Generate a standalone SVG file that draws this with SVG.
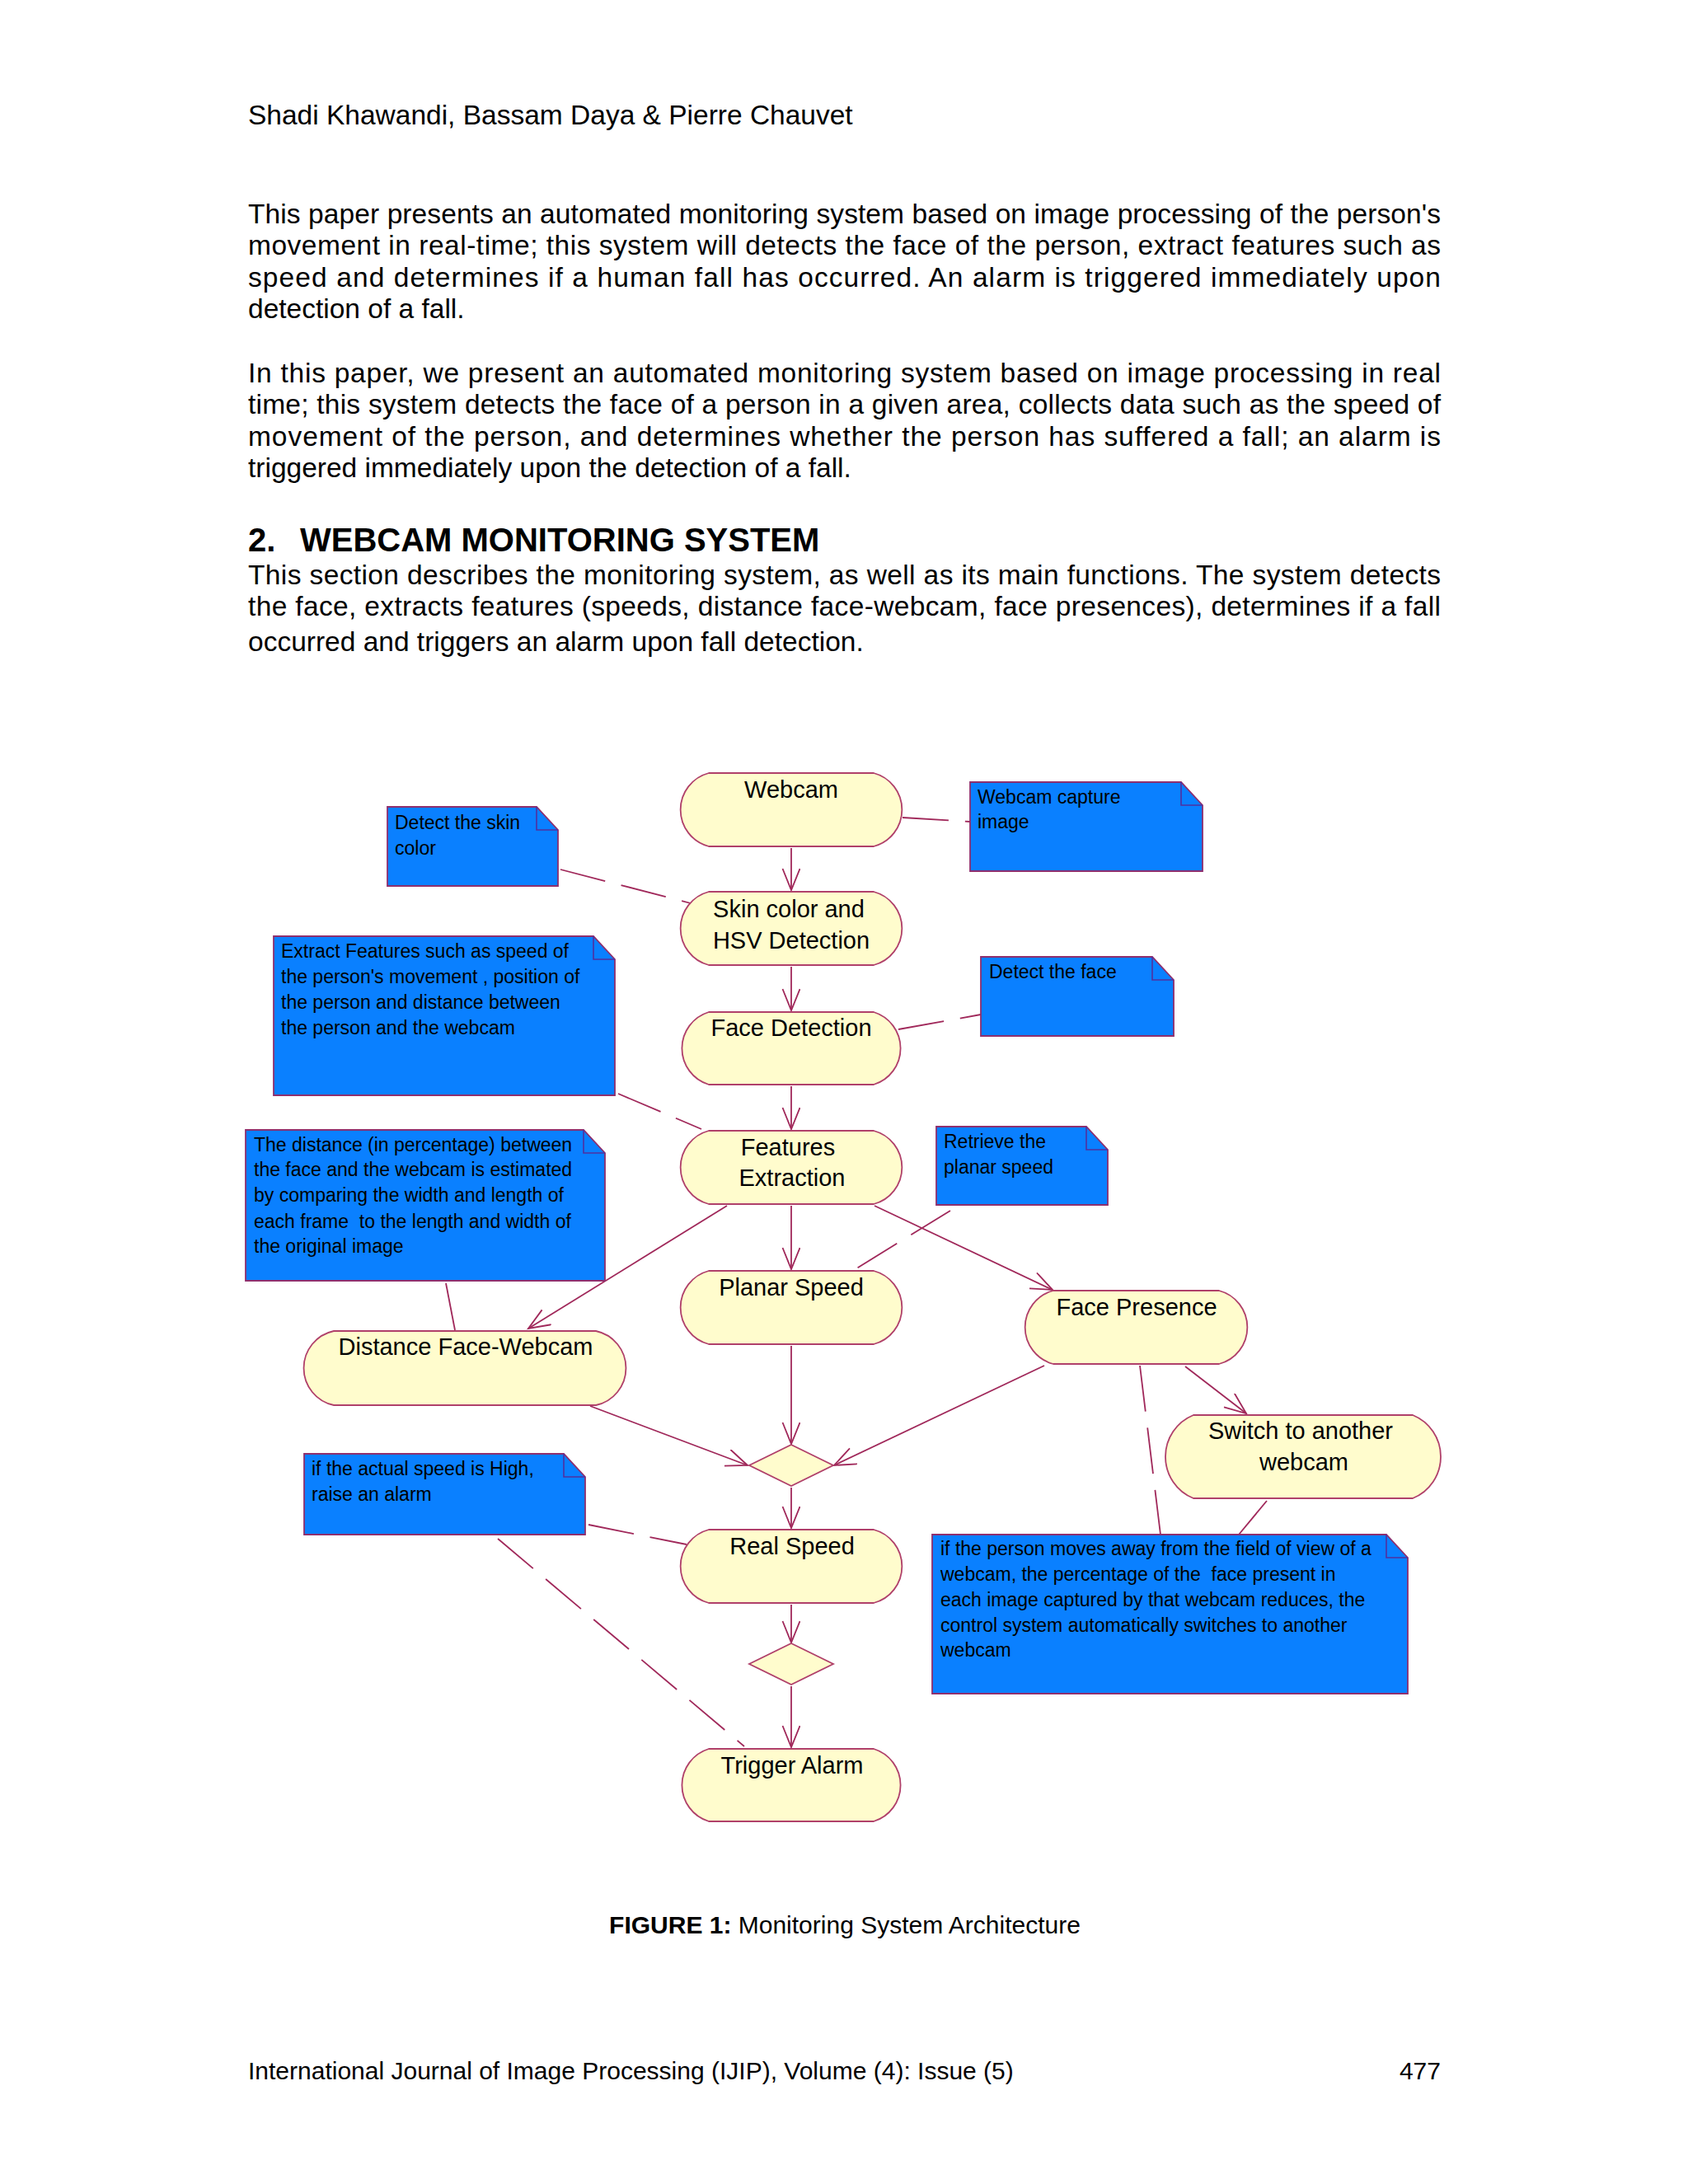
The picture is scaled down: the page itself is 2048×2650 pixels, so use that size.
<svg xmlns="http://www.w3.org/2000/svg" width="2048" height="2650" viewBox="0 0 2048 2650">
<style>
text{font-family:"Liberation Sans",Arial,sans-serif;fill:#000}
.body{font-size:33.5px}
.small{font-size:30px}
.head{font-size:40px;font-weight:bold}
.node{fill:#FFFCCD;stroke:#B0406A;stroke-width:1.8}
.lbl{font-size:29px;text-anchor:middle}
.note{fill:#0A80FF;stroke:#8E2F6E;stroke-width:1.8}
.fold{fill:none;stroke:#5030A0;stroke-width:1.6}
.nt{font-size:23px}
.flow{fill:none;stroke:#A0285A;stroke-width:1.8}
.dash{fill:none;stroke:#A0285A;stroke-width:1.8;stroke-dasharray:56 20}
.solid{fill:none;stroke:#A0285A;stroke-width:1.8}
</style>
<defs>
<marker id="arr" markerWidth="30" markerHeight="24" viewBox="0 0 30 24" refX="27" refY="11" orient="auto" markerUnits="userSpaceOnUse">
<path d="M1,0.5 L27,11 L1,21.5" fill="none" stroke="#A0285A" stroke-width="1.8"/>
</marker>
</defs>
<rect width="2048" height="2650" fill="#fff"/>

<g id="page-text">
<text class="body" x="301" y="151">Shadi Khawandi, Bassam Daya &amp; Pierre Chauvet</text>
<text class="body" x="301" y="271" textLength="1447" lengthAdjust="spacing">This paper presents an automated monitoring system based on image processing of the person's</text>
<text class="body" x="301" y="309.4" textLength="1447" lengthAdjust="spacing">movement in real-time; this system will detects the face of the person, extract features such as</text>
<text class="body" x="301" y="347.8" textLength="1447" lengthAdjust="spacing">speed and determines if a human fall has occurred. An alarm is triggered immediately upon</text>
<text class="body" x="301" y="386.2">detection of a fall.</text>
<text class="body" x="301" y="464" textLength="1447" lengthAdjust="spacing">In this paper, we present an automated monitoring system based on image processing in real</text>
<text class="body" x="301" y="502.4" textLength="1447" lengthAdjust="spacing">time; this system detects the face of a person in a given area, collects data such as the speed of</text>
<text class="body" x="301" y="540.8" textLength="1447" lengthAdjust="spacing">movement of the person, and determines whether the person has suffered a fall; an alarm is</text>
<text class="body" x="301" y="579.2">triggered immediately upon the detection of a fall.</text>
<text class="head" x="301" y="669">2.</text>
<text class="head" x="364" y="669">WEBCAM MONITORING SYSTEM</text>
<text class="body" x="301" y="709" textLength="1447" lengthAdjust="spacing">This section describes the monitoring system, as well as its main functions. The system detects</text>
<text class="body" x="301" y="747.4" textLength="1447" lengthAdjust="spacing">the face, extracts features (speeds, distance face-webcam, face presences), determines if a fall</text>
<text class="body" x="301" y="790">occurred and triggers an alarm upon fall detection.</text>
<text class="small" x="1025" y="2346" text-anchor="middle"><tspan font-weight="bold">FIGURE 1:</tspan> Monitoring System Architecture</text>
<text class="small" x="301" y="2523">International Journal of Image Processing (IJIP), Volume (4): Issue (5)</text>
<text class="small" x="1748" y="2523" text-anchor="end">477</text>
</g>

<g id="connectors">
<line class="flow" x1="960" y1="1029" x2="960" y2="1080" marker-end="url(#arr)"/>
<line class="flow" x1="960" y1="1173" x2="960" y2="1226" marker-end="url(#arr)"/>
<line class="flow" x1="960" y1="1318" x2="960" y2="1370" marker-end="url(#arr)"/>
<line class="flow" x1="960" y1="1463" x2="960" y2="1540" marker-end="url(#arr)"/>
<line class="flow" x1="882" y1="1463" x2="641" y2="1612" marker-end="url(#arr)"/>
<line class="flow" x1="1061" y1="1463" x2="1277" y2="1565" marker-end="url(#arr)"/>
<line class="flow" x1="960" y1="1633" x2="960" y2="1752" marker-end="url(#arr)"/>
<line class="flow" x1="716" y1="1706" x2="907" y2="1778" marker-end="url(#arr)"/>
<line class="flow" x1="1267" y1="1657" x2="1012" y2="1778" marker-end="url(#arr)"/>
<line class="flow" x1="1438" y1="1658" x2="1512" y2="1715" marker-end="url(#arr)"/>
<line class="flow" x1="960" y1="1805" x2="960" y2="1854" marker-end="url(#arr)"/>
<line class="flow" x1="960" y1="1947" x2="960" y2="1993" marker-end="url(#arr)"/>
<line class="flow" x1="960" y1="2046" x2="960" y2="2120" marker-end="url(#arr)"/>
<line class="dash" x1="1095" y1="992" x2="1177" y2="997"/>
<line class="dash" x1="680" y1="1055" x2="838" y2="1096"/>
<line class="dash" x1="1090" y1="1249" x2="1190" y2="1231"/>
<line class="dash" x1="750" y1="1327" x2="851" y2="1370"/>
<line class="solid" x1="541" y1="1557" x2="552" y2="1614"/>
<line class="dash" x1="1153" y1="1469" x2="1036" y2="1541"/>
<line class="dash" x1="714" y1="1850" x2="833" y2="1874"/>
<line class="dash" x1="604" y1="1867" x2="903" y2="2119"/>
<line class="dash" x1="1383" y1="1657" x2="1408" y2="1862"/>
<line class="solid" x1="1537" y1="1821" x2="1503" y2="1862"/>
</g>

<g id="node-webcam">
<path class="node" d="M860,938 H1060 A46 46 0 0 1 1060,1027 H860 A46 46 0 0 1 860,938 Z"/>
<text class="lbl" x="960" y="968">Webcam</text>
</g>
<g id="node-skin">
<path class="node" d="M860,1082 H1060 A46 46 0 0 1 1060,1171 H860 A46 46 0 0 1 860,1082 Z"/>
<text class="lbl" x="957" y="1113">Skin color and</text>
<text class="lbl" x="960" y="1151">HSV Detection</text>
</g>
<g id="node-facedet">
<path class="node" d="M860,1228 H1060 A46 46 0 0 1 1060,1316 H860 A46 46 0 0 1 860,1228 Z"/>
<text class="lbl" x="960" y="1257">Face Detection</text>
</g>
<g id="node-features">
<path class="node" d="M860,1372 H1060 A46 46 0 0 1 1060,1461 H860 A46 46 0 0 1 860,1372 Z"/>
<text class="lbl" x="956" y="1402">Features</text>
<text class="lbl" x="961" y="1439">Extraction</text>
</g>
<g id="node-planar">
<path class="node" d="M860,1542 H1060 A46 46 0 0 1 1060,1631 H860 A46 46 0 0 1 860,1542 Z"/>
<text class="lbl" x="960" y="1572">Planar Speed</text>
</g>
<g id="node-facepresence">
<path class="node" d="M1278,1566 H1479 A46 46 0 0 1 1479,1655 H1278 A46 46 0 0 1 1278,1566 Z"/>
<text class="lbl" x="1379" y="1596">Face Presence</text>
</g>
<g id="node-distance">
<path class="node" d="M405,1615 H723 A46 46 0 0 1 723,1705 H405 A46 46 0 0 1 405,1615 Z"/>
<text class="lbl" x="565" y="1644">Distance Face-Webcam</text>
</g>
<g id="node-switch">
<path class="node" d="M1448,1717 H1714 A54.5 54.5 0 0 1 1714,1818 H1448 A54.5 54.5 0 0 1 1448,1717 Z"/>
<text class="lbl" x="1578" y="1746">Switch to another</text>
<text class="lbl" x="1582" y="1784">webcam</text>
</g>
<g id="node-merge">
<path class="node" d="M960,1753 L1011,1778 L960,1803 L909,1778 Z"/>
</g>
<g id="node-realspeed">
<path class="node" d="M860,1856 H1060 A46 46 0 0 1 1060,1945 H860 A46 46 0 0 1 860,1856 Z"/>
<text class="lbl" x="961" y="1886">Real Speed</text>
</g>
<g id="node-decision">
<path class="node" d="M960,1994 L1011,2019 L960,2044 L909,2019 Z"/>
</g>
<g id="node-trigger">
<path class="node" d="M860,2122 H1060 A46 46 0 0 1 1060,2210 H860 A46 46 0 0 1 860,2122 Z"/>
<text class="lbl" x="961" y="2152">Trigger Alarm</text>
</g>

<g id="note-skin">
<path class="note" d="M470,979 H651 L677,1007 V1075 H470 Z"/>
<path class="fold" d="M651,979 V1007 H677"/>
<text class="nt" x="479" y="1006">Detect the skin</text>
<text class="nt" x="479" y="1037">color</text>
</g>
<g id="note-webcam">
<path class="note" d="M1177,949 H1433 L1459,977 V1057 H1177 Z"/>
<path class="fold" d="M1433,949 V977 H1459"/>
<text class="nt" x="1186" y="975">Webcam capture</text>
<text class="nt" x="1186" y="1005">image</text>
</g>
<g id="note-extract">
<path class="note" d="M332,1136 H720 L746,1164 V1329 H332 Z"/>
<path class="fold" d="M720,1136 V1164 H746"/>
<text class="nt" x="341" y="1162">Extract Features such as speed of</text>
<text class="nt" x="341" y="1193">the person's movement , position of</text>
<text class="nt" x="341" y="1224">the person and distance between</text>
<text class="nt" x="341" y="1255">the person and the webcam</text>
</g>
<g id="note-face">
<path class="note" d="M1190,1161 H1398 L1424,1189 V1257 H1190 Z"/>
<path class="fold" d="M1398,1161 V1189 H1424"/>
<text class="nt" x="1200" y="1187">Detect the face</text>
</g>
<g id="note-distance">
<path class="note" d="M298,1371 H708 L734,1399 V1554 H298 Z"/>
<path class="fold" d="M708,1371 V1399 H734"/>
<text class="nt" x="308" y="1397">The distance (in percentage) between</text>
<text class="nt" x="308" y="1427">the face and the webcam is estimated</text>
<text class="nt" x="308" y="1458">by comparing the width and length of</text>
<text class="nt" x="308" y="1490" xml:space="preserve">each frame  to the length and width of</text>
<text class="nt" x="308" y="1520">the original image</text>
</g>
<g id="note-planar">
<path class="note" d="M1136,1367 H1318 L1344,1395 V1462 H1136 Z"/>
<path class="fold" d="M1318,1367 V1395 H1344"/>
<text class="nt" x="1145" y="1393">Retrieve the</text>
<text class="nt" x="1145" y="1424">planar speed</text>
</g>
<g id="note-alarm">
<path class="note" d="M369,1764 H684 L710,1792 V1862 H369 Z"/>
<path class="fold" d="M684,1764 V1792 H710"/>
<text class="nt" x="378" y="1790">if the actual speed is High,</text>
<text class="nt" x="378" y="1821">raise an alarm</text>
</g>
<g id="note-switch">
<path class="note" d="M1131,1862 H1682 L1708,1890 V2055 H1131 Z"/>
<path class="fold" d="M1682,1862 V1890 H1708"/>
<text class="nt" x="1141" y="1887">if the person moves away from the field of view of a</text>
<text class="nt" x="1141" y="1918" xml:space="preserve">webcam, the percentage of the  face present in</text>
<text class="nt" x="1141" y="1949">each image captured by that webcam reduces, the</text>
<text class="nt" x="1141" y="1980">control system automatically switches to another</text>
<text class="nt" x="1141" y="2010">webcam</text>
</g>
</svg>
